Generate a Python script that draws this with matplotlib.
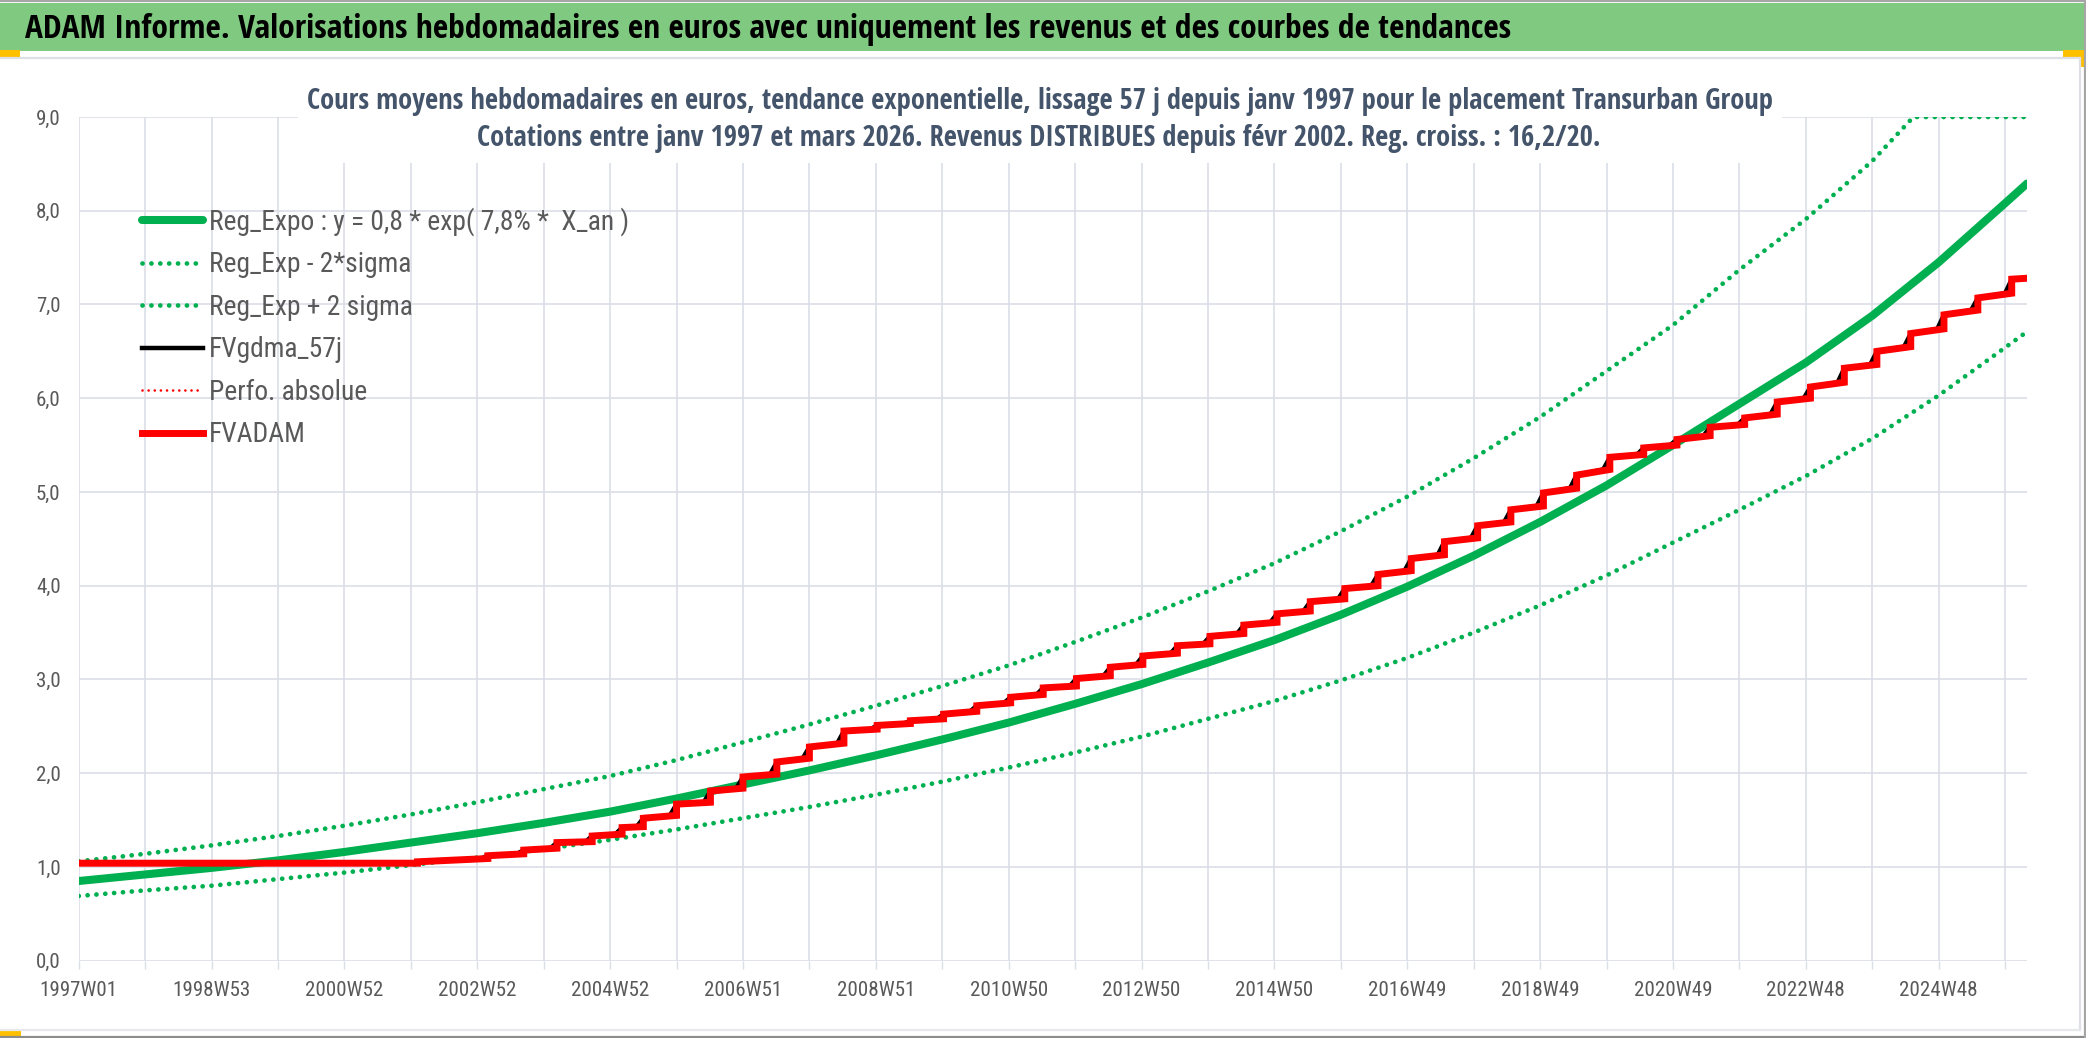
import numpy as np
import matplotlib
matplotlib.use('Agg')
import matplotlib.pyplot as plt
from matplotlib import font_manager
from matplotlib.font_manager import FontProperties
from matplotlib.lines import Line2D
from matplotlib.patches import Rectangle

# ---- data (x = years since 1997W01) ----
week_labels = ['1997W01', '1998W53', '2000W52', '2002W52', '2004W52', '2006W51',
               '2008W51', '2010W50', '2012W50', '2014W50', '2016W49', '2018W49',
               '2020W49', '2022W48', '2024W48']

trend_t = [0, 1, 2, 3, 4, 5, 6, 7, 8, 9, 10, 11, 12, 13, 14, 15, 16, 17, 18, 19,
           20, 21, 22, 23, 24, 25, 26, 27, 28, 29, 29.33]
reg_expo = [0.85, 0.92, 0.99, 1.07, 1.16, 1.26, 1.36, 1.47, 1.59, 1.73, 1.88, 2.03,
            2.19, 2.36, 2.54, 2.74, 2.95, 3.18, 3.42, 3.69, 3.99, 4.32, 4.68, 5.07,
            5.50, 5.94, 6.38, 6.88, 7.45, 8.08, 8.29]
reg_minus = [0.69, 0.75, 0.80, 0.87, 0.94, 1.02, 1.10, 1.19, 1.29, 1.40, 1.52, 1.64,
             1.77, 1.91, 2.06, 2.22, 2.39, 2.58, 2.77, 2.99, 3.23, 3.50, 3.79, 4.11,
             4.46, 4.81, 5.17, 5.57, 6.03, 6.54, 6.71]
upper_t = [0, 1, 2, 3, 4, 5, 6, 7, 8, 9, 10, 11, 12, 13, 14, 15, 16, 17, 18, 19,
           20, 21, 22, 23, 24, 25, 26, 27, 27.62, 28, 29, 29.33]
reg_plus = [1.06, 1.14, 1.23, 1.33, 1.44, 1.56, 1.69, 1.83, 1.97, 2.14, 2.33, 2.52,
            2.72, 2.93, 3.15, 3.40, 3.66, 3.94, 4.24, 4.58, 4.95, 5.36, 5.80, 6.29,
            6.78, 7.37, 7.91, 8.53, 9.0, 9.0, 9.0, 9.0]

# FVADAM: flat start, then a jump at every distribution date
start_value = 1.04
step_t = [5.10, 6.16, 6.70, 7.20, 7.73, 8.18, 8.50, 9.00, 9.51, 10.00, 10.51, 11.00,
          11.52, 12.02, 12.52, 13.02, 13.52, 14.03, 14.52, 15.02, 15.53, 16.02, 16.54,
          17.03, 17.54, 18.04, 18.54, 19.06, 19.56, 20.06, 20.56, 21.06, 21.56, 22.05,
          22.55, 23.05, 23.56, 24.06, 24.56, 25.08, 25.57, 26.07, 26.58, 27.07, 27.58,
          28.08, 28.59, 29.10]
step_before = [1.04, 1.09, 1.14, 1.20, 1.27, 1.35, 1.43, 1.55, 1.69, 1.84, 1.99, 2.16,
               2.32, 2.47, 2.53, 2.58, 2.66, 2.75, 2.84, 2.93, 3.04, 3.16, 3.28, 3.38,
               3.49, 3.61, 3.73, 3.86, 4.00, 4.16, 4.33, 4.51, 4.68, 4.85, 5.04, 5.24,
               5.40, 5.50, 5.60, 5.72, 5.83, 6.00, 6.17, 6.36, 6.55, 6.74, 6.94, 7.12]
step_after = [1.055, 1.12, 1.18, 1.26, 1.33, 1.42, 1.52, 1.67, 1.81, 1.96, 2.12, 2.28,
              2.45, 2.51, 2.56, 2.63, 2.72, 2.81, 2.91, 3.01, 3.13, 3.25, 3.36, 3.46,
              3.58, 3.70, 3.83, 3.97, 4.12, 4.29, 4.47, 4.64, 4.81, 4.99, 5.18, 5.37,
              5.47, 5.56, 5.69, 5.79, 5.96, 6.12, 6.32, 6.50, 6.69, 6.89, 7.07, 7.27]
end_t, end_value = 29.33, 7.28
SMOOTH_LAG = 0.10  # 57-day smoothing, in years

W, H = 2086, 1038
GREEN = '#00B050'
GRID = '#DADEE6'
TXT = '#595959'


def _weight(f):
    w = f.weight
    if isinstance(w, str):
        w = font_manager.weight_dict.get(w, 400)
    return int(w)


def narrow_font(bold):
    # look for a condensed face, close to the Calibri look of the original
    want = 700 if bold else 400
    fams = ['Liberation Sans Narrow', 'Noto Sans', 'Open Sans', 'Roboto', 'Lato', 'DejaVu Sans']
    for stretch in ('condensed', 'semi-condensed'):
        for fam in fams:
            for f in font_manager.fontManager.ttflist:
                name = f.name
                if not name.startswith(fam) or f.style != 'normal' or _weight(f) != want:
                    continue
                st = str(f.stretch)
                tag = name[len(fam):].strip().lower()
                if fam == 'Liberation Sans Narrow' or st == stretch or tag == stretch.replace('-', ' '):
                    return FontProperties(fname=f.fname)
    return FontProperties(family=['Open Sans', 'DejaVu Sans'], weight='bold' if bold else 'normal')


F_REG = narrow_font(False)
F_BOLD = narrow_font(True)


def fx(px):
    return px / W


def fy(py):
    return 1 - py / H


def prop(base, size):
    p = base.copy()
    p.set_size(size)
    return p


fig = plt.figure(figsize=(W / 100, H / 100), dpi=100)
fig.patch.set_facecolor('white')
renderer = fig.canvas.get_renderer()


def text_width(s, p):
    t = fig.text(0, 0, s, fontproperties=p)
    w = t.get_window_extent(renderer=renderer).width
    t.remove()
    return w


left, right, top, bottom = 78.7, 2027, 117, 960.7
ax = fig.add_axes([fx(left), fy(bottom), fx(right) - fx(left), fy(top) - fy(bottom)])

# build step paths
red_x, red_y = [0.0], [start_value]
blk_x, blk_y = [0.0], [start_value]
for t, b, a in zip(step_t, step_before, step_after):
    red_x += [t, t]
    red_y += [b, a]
    blk_x += [t - SMOOTH_LAG, t]
    blk_y += [b, a]
red_x.append(end_t); red_y.append(end_value)
blk_x.append(end_t); blk_y.append(end_value)

dot_kw = dict(color=GREEN, lw=3.4, dashes=(0.02, 1.86), dash_capstyle='round')
l_reg, = ax.plot(trend_t, reg_expo, color=GREEN, lw=5.8, solid_capstyle='round', zorder=3)
l_min, = ax.plot(trend_t, reg_minus, zorder=3, **dot_kw)
l_plus, = ax.plot(upper_t, reg_plus, zorder=3, **dot_kw)
l_blk, = ax.plot(blk_x, blk_y, color='black', lw=3.2, zorder=4)
l_red, = ax.plot(red_x, red_y, color='#FF0000', lw=5.0, zorder=5, solid_joinstyle='miter')
l_perf = Line2D([], [], color='#FF0000', lw=1.9, dashes=(0.02, 2.3), dash_capstyle='round')

ax.set_xlim(0, end_t)
ax.set_ylim(0, 9)
ax.set_xticks(range(0, 30))
ax.set_xticklabels([week_labels[i // 2] if i % 2 == 0 else '' for i in range(30)])
ax.set_yticks(range(0, 10))
ax.set_yticklabels([f'{v},0' for v in range(0, 10)])
ax.grid(True, color=GRID, lw=1.2)
ax.set_axisbelow(True)
for s in ax.spines.values():
    s.set_visible(False)

tick_size = 15 * 78 / text_width('1997W01', prop(F_REG, 15))
tick_prop = prop(F_REG, tick_size)
ax.tick_params(axis='x', length=5.5, width=1.0, color=GRID, pad=9, labelcolor=TXT)
ax.tick_params(axis='y', length=0, pad=13, labelcolor=TXT)
for lab in ax.get_xticklabels() + ax.get_yticklabels():
    lab.set_fontproperties(tick_prop)

# frame / title bar decorations
fig.add_artist(Line2D([0, 1], [fy(1.2), fy(1.2)], color='#A6A6A6', lw=1.6))
fig.add_artist(Rectangle((0, fy(51)), fx(2084), fy(3) - fy(51), facecolor='#80C980', edgecolor='none'))
fig.add_artist(Line2D([0, fx(2080)], [fy(58), fy(58)], color='#DCDFE6', lw=1.6))
fig.add_artist(Line2D([fx(2080), fx(2080)], [fy(58), fy(1030)], color='#DCDFE6', lw=1.6))
fig.add_artist(Line2D([0, fx(2080)], [fy(1030), fy(1030)], color='#E6E8EC', lw=1.6))
fig.add_artist(Line2D([0, 1], [fy(1036.8), fy(1036.8)], color='#8C8C8C', lw=1.6))
fig.add_artist(Line2D([fx(2084.8), fx(2084.8)], [0, 1], color='#A6A6A6', lw=1.6))
for (x0, y0, x1, y1) in [(0, 50, 20, 57.5), (2063, 50, 2080, 57.5), (2080, 50, 2084, 67), (0, 1030.5, 21, 1036)]:
    fig.add_artist(Rectangle((fx(x0), fy(y1)), fx(x1) - fx(x0), fy(y0) - fy(y1),
                             facecolor='#FFC000', edgecolor='none'))

title = fig.text(fx(25), fy(38), 'ADAM Informe. Valorisations hebdomadaires en euros avec uniquement '
                 'les revenus et des courbes de tendances', fontproperties=prop(F_BOLD, 20),
                 color='black', ha='left', va='baseline')

# subtitle sits on a white box that hides the grid behind it
fig.add_artist(Rectangle((fx(298), fy(163)), fx(1782) - fx(298), fy(110) - fy(163),
                         facecolor='white', edgecolor='none', zorder=1))
sub1 = fig.text(fx(1040), fy(109.3), 'Cours moyens hebdomadaires en euros, tendance exponentielle, '
                'lissage 57 j depuis janv 1997 pour le placement Transurban Group',
                fontproperties=prop(F_BOLD, 18), color='#44546A', ha='center', va='baseline', zorder=2)
sub2 = fig.text(fx(1039), fy(146), 'Cotations entre janv 1997 et mars 2026. Revenus DISTRIBUES '
                'depuis févr 2002. Reg. croiss. : 16,2/20.',
                fontproperties=prop(F_BOLD, 18), color='#44546A', ha='center', va='baseline', zorder=2)

for t, target in [(title, 1486), (sub1, 1466), (sub2, 1126)]:
    w = t.get_window_extent(renderer=renderer).width
    t.set_fontsize(t.get_fontsize() * target / w)

handles = [l_reg, l_min, l_plus, l_blk, l_perf, l_red]
labels = ['Reg_Expo : y = 0,8 * exp( 7,8% *  X_an )', 'Reg_Exp - 2*sigma', 'Reg_Exp + 2 sigma',
          'FVgdma_57j', 'Perfo. absolue', 'FVADAM']
leg_size = 20 * 203 / text_width('Reg_Exp - 2*sigma', prop(F_REG, 20))
leg_px = leg_size * 100 / 72


def make_legend(spacing, anchor_y):
    return fig.legend(handles, labels, loc='upper left', bbox_to_anchor=(fx(142), anchor_y),
                      frameon=False, prop=prop(F_REG, leg_size), handlelength=61 / leg_px,
                      handletextpad=6 / leg_px, labelspacing=spacing, borderpad=0,
                      borderaxespad=0, labelcolor=TXT)


# adjust row pitch (43.3 px) and first row position (221.7 px from top)
spacing, anchor = 0.4, fy(205)
leg = make_legend(spacing, anchor)
for _ in range(2):
    fig.canvas.draw()
    b0 = leg.get_texts()[0].get_window_extent(renderer=renderer)
    b1 = leg.get_texts()[1].get_window_extent(renderer=renderer)
    pitch = (b0.y0 + b0.y1) / 2 - (b1.y0 + b1.y1) / 2
    spacing += (43.3 - pitch) / leg_px
    anchor += ((H - 221.7) - (b0.y0 + b0.y1) / 2) / H
    leg.remove()
    leg = make_legend(spacing, anchor)

fig.savefig('out.png', dpi=100)
